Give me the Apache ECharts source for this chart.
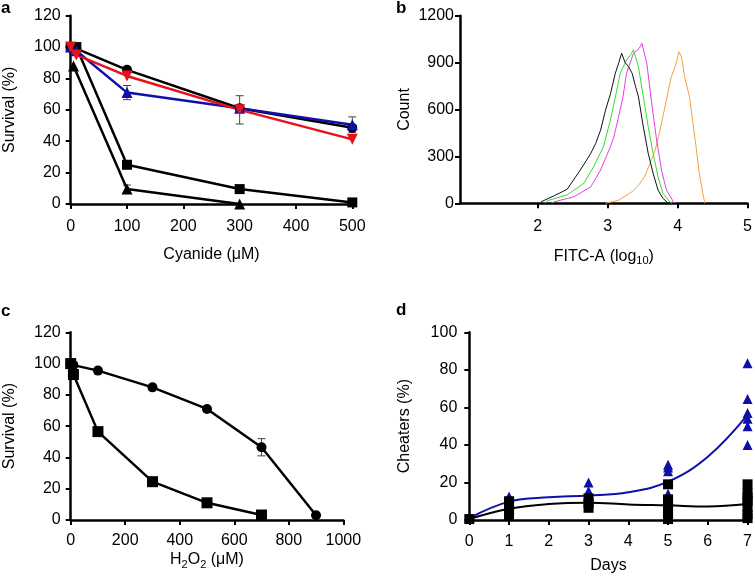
<!DOCTYPE html>
<html><head><meta charset="utf-8">
<script src="https://cdn.jsdelivr.net/npm/echarts@6/dist/echarts.min.js"></script>
<style>html,body{margin:0;padding:0;background:#fff}#c{width:755px;height:576px}</style>
</head><body><div id="c"></div>
<script>
// ---- Panel a: cyanide survival ----
const cyanideX = [0, 10, 100, 300, 500];
const aCircle = [100, 99, 85.5, 61, 48.6];
const aCircleErr = [0, 0, 0, 0, 1.5];
const aBlue = [100, 97.7, 71, 61, 50.5];
const aBlueErr = [0, 0, 4.5, 2, 5];
const aRed = [100, 95, 81.6, 60, 41.2];
const aRedErr = [0, 0, 0, 9, 0];
const aSquare = [100, 100, 25, 9.5, 1];
const aTriX = [5, 100, 300];
const aTri = [88, 9.6, 0];
const aTriErr = [0, 2.5, 0];

// ---- Panel b: FITC histograms (log10, count) ----
const blackHX = [2.05, 2.24, 2.42, 2.61, 2.76, 2.83, 2.90, 2.97, 3.04, 3.11, 3.16, 3.20, 3.25, 3.30, 3.35, 3.40, 3.44, 3.51, 3.58, 3.65, 3.72, 3.79, 3.86, 3.89];
const blackHY = [10, 49, 89, 213, 320, 384, 469, 596, 700, 832, 900, 960, 900, 874, 832, 746, 682, 490, 320, 192, 85, 32, 4, 0];
const greenHX = [2.10, 2.14, 2.42, 2.66, 2.80, 2.94, 3.04, 3.12, 3.18, 3.27, 3.33, 3.37, 3.44, 3.51, 3.58, 3.65, 3.72, 3.79, 3.89, 3.92];
const greenHY = [0, 17, 53, 128, 234, 362, 533, 700, 832, 917, 950, 981, 874, 682, 490, 320, 170, 64, 10, 0];
const magentaHX = [2.20, 2.24, 2.52, 2.76, 2.90, 3.04, 3.09, 3.16, 3.22, 3.27, 3.37, 3.45, 3.49, 3.56, 3.63, 3.70, 3.77, 3.84, 3.94, 3.96];
const magentaHY = [0, 10, 42, 106, 213, 362, 426, 560, 682, 832, 960, 990, 1024, 896, 640, 405, 213, 85, 10, 0];
const orangeHX = [2.97, 3.16, 3.35, 3.45, 3.53, 3.61, 3.68, 3.75, 3.82, 3.91, 3.97, 4.02, 4.06, 4.10, 4.17, 4.22, 4.27, 4.31, 4.36, 4.39];
const orangeHY = [0, 20, 74, 120, 170, 260, 341, 470, 618, 810, 880, 970, 930, 810, 682, 512, 341, 192, 64, 0];
const bTicks = [2, 3, 4, 5];

// ---- Panel c: H2O2 survival ----
const h2o2X = [0, 10, 100, 300, 500, 700, 900];
const cCircle = [100, 99, 95.5, 84.8, 71, 46.5, 3];
const cCircleErr = [0, 0, 0, 0, 0, 5.5, 0];
const h2o2SqX = [0, 10, 100, 300, 500, 700];
const cSquare = [100, 93, 56.5, 24.5, 11, 3.2];

// ---- Panel d: cheaters over days ----
const triDays = [0, 1, 1, 3, 3, 3, 5, 5, 5, 5, 5, 7, 7, 7, 7, 7, 7];
const triVals = [1, 12.5, 10, 20, 15.5, 13, 29.5, 28, 26, 14, 8, 83.5, 64.5, 57, 54, 50, 40];
const sqDays = [0, 1, 1, 1, 1, 3, 3, 3, 5, 5, 5, 5, 5, 5, 7, 7, 7, 7, 7, 7, 7];
const sqVals = [0.5, 10, 8, 5, 2.5, 11.5, 9, 6.5, 19, 11, 9, 6, 3, 0.5, 19, 14, 12, 10, 7, 3, 1];
const fitDays = [0, 1, 2, 3, 4, 5, 6, 7];
const blueFit = [1, 9.8, 12.1, 13, 14.8, 20.4, 33.7, 56];
const blackFit = [0.5, 6, 8.5, 9.2, 8.3, 7.8, 7.2, 8.5];

const FONT = 'Liberation Sans';
const FS = 16;
const BLUE = '#1010a8', RED = '#e8101a';
const zip = (xs, ys) => xs.map((x, i) => [x, ys[i]]);
const zip3 = (xs, ys, es) => xs.map((x, i) => [x, ys[i], es[i]]);
const plain = v => String(v);
const subRich = { sub: { fontSize: 11, verticalAlign: 'bottom', padding: [9, 0, 0, 0], fontFamily: FONT, color: '#000' } };

function lab(margin, extra) {
  return Object.assign({ color: '#000', fontSize: FS, fontFamily: FONT, margin: margin, formatter: plain }, extra || {});
}
function axisBase(extra) {
  return Object.assign({
    axisLine: { show: true, onZero: false, lineStyle: { color: '#000', width: 2.5 } },
    axisTick: { show: true, length: 5, lineStyle: { color: '#000', width: 2 } },
    axisLabel: lab(10),
    splitLine: { show: false },
    nameTextStyle: { color: '#000', fontSize: FS, fontFamily: FONT, rich: subRich },
    nameLocation: 'middle'
  }, extra);
}

function errSeries(xi, data, color) {
  return {
    type: 'custom', xAxisIndex: xi, yAxisIndex: xi, z: 1, silent: true,
    data: data.filter(d => d[2] > 0),
    renderItem: (params, api) => {
      const x = api.value(0), y = api.value(1), e = api.value(2);
      const t = api.coord([x, y + e]), b = api.coord([x, y - e]);
      const w = 4;
      const st = { stroke: color, lineWidth: 1 };
      return { type: 'group', children: [
        { type: 'line', shape: { x1: t[0], y1: t[1], x2: b[0], y2: b[1] }, style: st },
        { type: 'line', shape: { x1: t[0] - w, y1: t[1], x2: t[0] + w, y2: t[1] }, style: st },
        { type: 'line', shape: { x1: b[0] - w, y1: b[1], x2: b[0] + w, y2: b[1] }, style: st }
      ] };
    }
  };
}

function lineS(xi, data, color, symbol, size, extra) {
  return Object.assign({
    type: 'line', xAxisIndex: xi, yAxisIndex: xi, data: data, symbol: symbol, symbolSize: size,
    showSymbol: true, animation: false, z: 3,
    lineStyle: { color: color, width: 2.5 }, itemStyle: { color: color, opacity: 1 }
  }, extra || {});
}

const chart = echarts.init(document.getElementById('c'), null, { renderer: 'canvas' });
const option = {
  animation: false,
  backgroundColor: '#fff',
  textStyle: { fontFamily: FONT },
  grid: [
    { left: 70.7, right: 402.7, top: 15.7, bottom: 372 },
    { left: 460, right: 5, top: 15.7, bottom: 372.7 },
    { left: 70.7, right: 411.7, top: 332.3, bottom: 56 },
    { left: 469.3, right: 5.7, top: 332.3, bottom: 56 }
  ],
  xAxis: [
    axisBase({ gridIndex: 0, type: 'value', min: 0, max: 500, interval: 100, name: 'Cyanide (μM)', nameGap: 43, axisLabel: lab(15) }),
    axisBase({ gridIndex: 1, type: 'value', min: 0.89, max: 5, name: 'FITC-A (log{sub|10})', nameGap: 43,
      axisTick: { show: true, length: 5, lineStyle: { color: '#000', width: 2 }, customValues: bTicks },
      axisLabel: lab(15, { customValues: bTicks }) }),
    axisBase({ gridIndex: 2, type: 'value', min: 0, max: 1000, interval: 200, name: 'H{sub|2}O{sub|2} (μM)', nameGap: 30, axisLabel: lab(13) }),
    axisBase({ gridIndex: 3, type: 'value', min: 0, max: 7, interval: 1, name: 'Days', nameGap: 38, axisLabel: lab(14) })
  ],
  yAxis: [
    axisBase({ gridIndex: 0, type: 'value', min: 0, max: 120, interval: 20, name: 'Survival (%)', nameGap: 53, axisLabel: lab(10) }),
    axisBase({ gridIndex: 1, type: 'value', min: 0, max: 1200, interval: 300, name: 'Count', nameGap: 47, axisLabel: lab(6) }),
    axisBase({ gridIndex: 2, type: 'value', min: 0, max: 120, interval: 20, name: 'Survival (%)', nameGap: 53, axisLabel: lab(10) }),
    axisBase({ gridIndex: 3, type: 'value', min: 0, max: 100, interval: 20, name: 'Cheaters (%)', nameGap: 57, axisLabel: lab(12) })
  ],
  series: [
    // panel a
    errSeries(0, zip3(cyanideX, aCircle, aCircleErr), '#444'),
    errSeries(0, zip3(cyanideX, aBlue, aBlueErr), '#444'),
    errSeries(0, zip3(cyanideX, aRed, aRedErr), '#444'),
    errSeries(0, zip3(aTriX, aTri, aTriErr), '#444'),
    lineS(0, zip(aTriX, aTri), '#000', 'triangle', 11),
    lineS(0, zip(cyanideX, aSquare), '#000', 'rect', 10),
    lineS(0, zip(cyanideX, aCircle), '#000', 'circle', 10),
    lineS(0, zip(cyanideX, aBlue), BLUE, 'triangle', 11),
    lineS(0, zip(cyanideX, aRed), RED, 'triangle', 11, { symbolRotate: 180 }),
    // panel b
    lineS(1, zip(orangeHX, orangeHY), '#f5a040', 'none', 0, { lineStyle: { color: '#f5a040', width: 1 } }),
    lineS(1, zip(magentaHX, magentaHY), '#e040e0', 'none', 0, { lineStyle: { color: '#e040e0', width: 1 } }),
    lineS(1, zip(greenHX, greenHY), '#33dd33', 'none', 0, { lineStyle: { color: '#33dd33', width: 1 } }),
    lineS(1, zip(blackHX, blackHY), '#111', 'none', 0, { lineStyle: { color: '#111', width: 1 } }),
    // panel c
    errSeries(2, zip3(h2o2X, cCircle, cCircleErr), '#444'),
    lineS(2, zip(h2o2SqX, cSquare), '#000', 'rect', 11),
    lineS(2, zip(h2o2X, cCircle), '#000', 'circle', 10),
    // panel d
    lineS(3, zip(fitDays, blueFit), BLUE, 'none', 0, { smooth: 0.4, lineStyle: { color: BLUE, width: 2 } }),
    { type: 'scatter', xAxisIndex: 3, yAxisIndex: 3, data: zip(triDays, triVals), symbol: 'triangle', symbolSize: 10, itemStyle: { color: BLUE, opacity: 1 }, z: 3 },
    lineS(3, zip(fitDays, blackFit), '#000', 'none', 0, { smooth: 0.4, lineStyle: { color: '#000', width: 2 } }),
    { type: 'scatter', xAxisIndex: 3, yAxisIndex: 3, data: zip(sqDays, sqVals), symbol: 'rect', symbolSize: 10, itemStyle: { color: '#000', opacity: 1 }, z: 4 }
  ],
  graphic: [
    { type: 'text', left: 1, top: 0, style: { text: 'a', font: 'bold 17px "Liberation Sans"', fill: '#000' } },
    { type: 'text', left: 396, top: 0, style: { text: 'b', font: 'bold 17px "Liberation Sans"', fill: '#000' } },
    { type: 'text', left: 1, top: 303, style: { text: 'c', font: 'bold 17px "Liberation Sans"', fill: '#000' } },
    { type: 'text', left: 396, top: 302, style: { text: 'd', font: 'bold 17px "Liberation Sans"', fill: '#000' } }
  ]
};
chart.setOption(option);
</script></body></html>
